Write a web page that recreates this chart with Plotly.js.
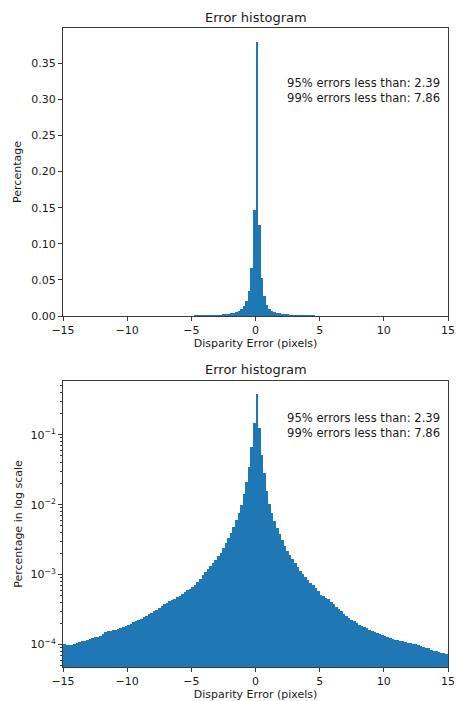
<!DOCTYPE html>
<html>
<head>
<meta charset="utf-8">
<script src="https://cdn.plot.ly/plotly-3.0.1.min.js"></script>
<style>html,body{margin:0;padding:0;background:#fff;}#chart{width:456px;height:701px;}</style>
</head>
<body>
<div id="chart"></div>
<script>
// Histogram bins: 150 bins of width 0.2 from -15 to 15
const binStart = -15;
const binWidth = 0.2;
// Fraction of pixels in each bin
const percentage = [
  1.02e-4, 1.00e-4, 0.99e-4, 1.00e-4, 1.03e-4, 1.06e-4, 1.09e-4, 1.12e-4, 1.14e-4, 1.18e-4,
  1.21e-4, 1.24e-4, 1.27e-4, 1.30e-4, 1.33e-4, 1.40e-4, 1.50e-4, 1.56e-4, 1.58e-4, 1.60e-4,
  1.64e-4, 1.69e-4, 1.74e-4, 1.79e-4, 1.84e-4, 1.90e-4, 1.98e-4, 2.08e-4, 2.17e-4, 2.25e-4,
  2.35e-4, 2.45e-4, 2.58e-4, 2.70e-4, 2.82e-4, 2.98e-4, 3.15e-4, 3.35e-4, 3.55e-4, 3.75e-4,
  3.95e-4, 4.15e-4, 4.35e-4, 4.55e-4, 4.75e-4, 5.00e-4, 5.30e-4, 5.60e-4, 5.95e-4, 6.30e-4,
  6.6e-4, 7.2e-4, 7.9e-4, 8.8e-4, 9.8e-4, 1.08e-3, 1.20e-3, 1.33e-3, 1.48e-3, 1.64e-3,
  1.82e-3, 2.05e-3, 2.38e-3, 2.80e-3, 3.30e-3, 3.95e-3, 4.8e-3, 6.0e-3, 7.6e-3, 1.00e-2,
  0.0144, 0.021, 0.0346, 0.067, 0.147, 0.380, 0.126, 0.052, 0.028, 0.0155,
  0.0103, 7.6e-3, 5.9e-3, 4.7e-3, 3.8e-3, 3.1e-3, 2.6e-3, 2.2e-3, 1.9e-3, 1.65e-3,
  1.45e-3, 1.28e-3, 1.14e-3, 1.02e-3, 9.2e-4, 8.4e-4, 7.7e-4, 7.0e-4, 6.4e-4, 5.9e-4,
  5.2e-4, 4.95e-4, 4.7e-4, 4.45e-4, 4.05e-4, 3.75e-4, 3.5e-4, 3.25e-4, 3.0e-4, 2.75e-4,
  2.55e-4, 2.4e-4, 2.27e-4, 2.15e-4, 2.02e-4, 1.93e-4, 1.86e-4, 1.79e-4, 1.72e-4, 1.62e-4,
  1.56e-4, 1.51e-4, 1.46e-4, 1.41e-4, 1.36e-4, 1.32e-4, 1.28e-4, 1.25e-4, 1.21e-4, 1.18e-4,
  1.16e-4, 1.14e-4, 1.12e-4, 1.09e-4, 1.06e-4, 1.04e-4, 1.02e-4, 1.01e-4, 0.98e-4, 0.94e-4,
  0.92e-4, 0.90e-4, 0.88e-4, 0.85e-4, 0.82e-4, 0.80e-4, 0.78e-4, 0.76e-4, 0.75e-4, 0.73e-4
];
const xTickVals = [-15, -10, -5, 0, 5, 10, 15];
const xTickText = ['\u221215', '\u221210', '\u22125', '0', '5', '10', '15'];
const logTickVals = [1e-4, 1e-3, 1e-2, 1e-1];
const logTickText = ['10<sup>\u22124</sup>', '10<sup>\u22123</sup>', '10<sup>\u22122</sup>', '10<sup>\u22121</sup>'];
const titleText = 'Error histogram';
const xTitle = 'Disparity Error (pixels)';
const yTitleTop = 'Percentage';
const yTitleBottom = 'Percentage in log scale';
const noteLines = ['95% errors less than: 2.39', '99% errors less than: 7.86'];

const centers = percentage.map((_, i) => binStart + binWidth * (i + 0.5));

const minorLog = [];
for (let e = -5; e <= -1; e++) {
  for (let m = 2; m <= 9; m++) minorLog.push(m * Math.pow(10, e));
}

const barColor = '#1f77b4';
const txt = '#1a1a1a';
const lineCol = '#3a3a3a';
const font = {family: 'DejaVu Sans, sans-serif', size: 11, color: txt};
const noteFont = {family: 'DejaVu Sans, sans-serif', size: 11.6, color: txt};

const traces = [
  {type: 'bar', x: centers, y: percentage, width: binWidth, marker: {color: barColor, line: {width: 0}}, xaxis: 'x', yaxis: 'y', hoverinfo: 'x+y'},
  {type: 'bar', x: centers, y: percentage, width: binWidth, marker: {color: barColor, line: {width: 0}}, xaxis: 'x2', yaxis: 'y2', hoverinfo: 'x+y'}
];

const xCommon = {
  range: [-15, 15], tickmode: 'array', tickvals: xTickVals, ticktext: xTickText,
  showline: true, mirror: true, linecolor: lineCol, linewidth: 1,
  ticks: 'outside', ticklen: 4, tickcolor: lineCol, showgrid: false, zeroline: false,
  tickfont: font, domain: [63/456, 448/456],
  title: {text: xTitle, font: font, standoff: 2}
};

const layout = {
  width: 456, height: 701,
  margin: {l: 0, r: 0, t: 0, b: 0},
  paper_bgcolor: '#fff', plot_bgcolor: '#fff',
  showlegend: false, bargap: 0, font: font,
  xaxis: Object.assign({}, xCommon, {anchor: 'y'}),
  yaxis: {
    domain: [1 - 316/701, 1 - 28/701], range: [0, 0.399], anchor: 'x',
    tickmode: 'linear', tick0: 0, dtick: 0.05, tickformat: '.2f',
    showline: true, mirror: true, linecolor: lineCol, linewidth: 1,
    ticks: 'outside', ticklen: 4, tickcolor: lineCol, showgrid: false, zeroline: false,
    tickfont: font, title: {text: yTitleTop, font: font, standoff: 7}
  },
  xaxis2: Object.assign({}, xCommon, {anchor: 'y2'}),
  yaxis2: {
    domain: [1 - 667/701, 1 - 381/701], type: 'log', range: [-4.32, -0.233], anchor: 'x2',
    tickmode: 'array', tickvals: logTickVals, ticktext: logTickText,
    showline: true, mirror: true, linecolor: lineCol, linewidth: 1,
    ticks: 'outside', ticklen: 4, tickcolor: lineCol, showgrid: false, zeroline: false,
    minor: {tickmode: 'array', tickvals: minorLog, ticks: 'outside', ticklen: 2, tickcolor: lineCol, showgrid: false},
    tickfont: font, title: {text: yTitleBottom, font: font, standoff: 5}
  },
  annotations: [
    {text: titleText, xref: 'paper', yref: 'paper', x: 255.5/456, y: 1 - 17/701, xanchor: 'center', yanchor: 'middle', showarrow: false, font: {family: font.family, size: 13, color: txt}},
    {text: titleText, xref: 'paper', yref: 'paper', x: 255.5/456, y: 1 - 370/701, xanchor: 'center', yanchor: 'middle', showarrow: false, font: {family: font.family, size: 13, color: txt}},
    {text: noteLines.join('<br>'), xref: 'x', yref: 'paper', x: 2.3, y: 1 - 90/701, xanchor: 'left', yanchor: 'middle', align: 'left', showarrow: false, font: noteFont},
    {text: noteLines.join('<br>'), xref: 'x2', yref: 'paper', x: 2.3, y: 1 - 425/701, xanchor: 'left', yanchor: 'middle', align: 'left', showarrow: false, font: noteFont}
  ]
};

Plotly.newPlot('chart', traces, layout, {staticPlot: true, displayModeBar: false});
</script>
</body>
</html>
